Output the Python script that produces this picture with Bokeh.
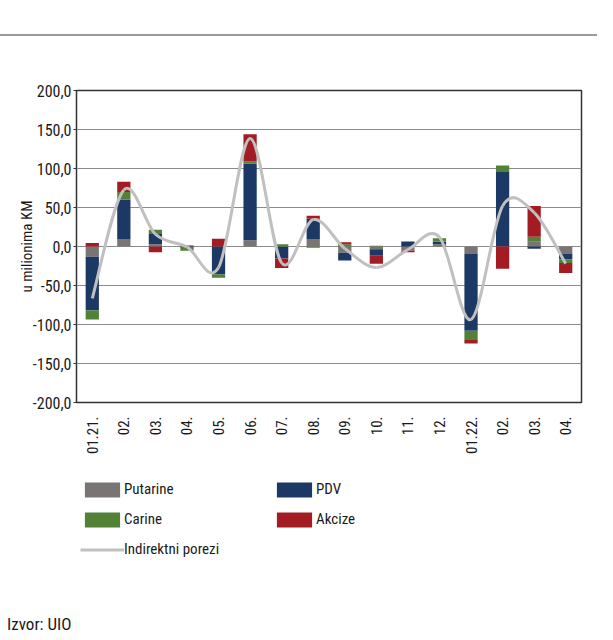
import numpy as np
from bokeh.plotting import figure
from bokeh.models import FixedTicker, Legend, LegendItem, Range1d, Div
from bokeh.layouts import column
from bokeh.embed import file_html
from bokeh.resources import INLINE

# ---- data ----
months = ["01.21.", "02.", "03.", "04.", "05.", "06.", "07.", "08.",
          "09.", "10.", "11.", "12.", "01.22.", "02.", "03.", "04."]
putarine = [-13.0, 9.0, 3.0, 1.5, 0.0, 8.0, 0.0, 9.0, -8.0, -3.5, -5.0, 3.0, -9.5, 0.0, 6.0, -9.5]
pdv = [-69.0, 51.0, 13.0, -1.5, -36.0, 98.5, -15.5, 26.5, -10.0, -8.5, 6.5, 3.0, -98.5, 95.5, -3.0, -7.0]
carine = [-11.5, 10.0, 5.5, -4.0, -4.0, 2.5, 3.0, -1.5, 3.0, 1.0, 0.0, 4.5, -12.0, 8.5, 6.5, -4.5]
akcize = [4.5, 13.0, -7.5, 0.0, 10.0, 35.0, -12.0, 4.0, 2.5, -10.0, -2.5, 0.0, -4.5, -28.5, 39.5, -13.0]
indirektni = [-66.5, 72.5, 16.0, -0.5, -27.0, 138.5, -21.0, 34.5, -2.5, -27.0, -4.0, 12.0, -93.5, 52.0, 43.5, -22.0]

series_names = ["Putarine", "PDV", "Carine", "Akcize"]
series_values = [putarine, pdv, carine, akcize]
series_colors = ["#7a7574", "#1c3864", "#538135", "#a31c24"]
line_name = "Indirektni porezi"
line_color = "#c0c0c0"
source_text = "Izvor: UIO"

y_ticks = [-200, -150, -100, -50, 0, 50, 100, 150, 200]
y_tick_labels = [f"{t:.1f}".replace(".", ",") for t in y_ticks]

FONT = "Roboto Condensed"
TXT = "#1a1a1a"
W = 597

# stacked extents (positives stack up, negatives stack down, in series order)
x = np.arange(len(months))
pos_base = np.zeros(len(months))
neg_base = np.zeros(len(months))
stacks = []
for vals in series_values:
    v = np.array(vals, dtype=float)
    bottom = np.where(v >= 0, pos_base, neg_base)
    top = bottom + v
    pos_base = np.where(v >= 0, top, pos_base)
    neg_base = np.where(v < 0, top, neg_base)
    stacks.append((bottom, top))

# smoothed total line (Catmull-Rom as cubic Bezier segments through the data points)
yv = np.array(indirektni, dtype=float)
xv = x.astype(float)
n = len(xv)
bz = {k: [] for k in ("x0", "y0", "x1", "y1", "cx0", "cy0", "cx1", "cy1")}
for i in range(n - 1):
    a = max(i - 1, 0)
    d = min(i + 2, n - 1)
    bz["x0"].append(xv[i]); bz["y0"].append(yv[i])
    bz["x1"].append(xv[i + 1]); bz["y1"].append(yv[i + 1])
    bz["cx0"].append(xv[i] + (xv[i + 1] - xv[a]) / 6.0)
    bz["cy0"].append(yv[i] + (yv[i + 1] - yv[a]) / 6.0)
    bz["cx1"].append(xv[i + 1] - (xv[d] - xv[i]) / 6.0)
    bz["cy1"].append(yv[i + 1] - (yv[d] - yv[i]) / 6.0)

# ---- main chart ----
p = figure(width=W, height=428,
           x_range=Range1d(-0.5, 15.5), y_range=Range1d(-200, 200),
           output_backend="svg", toolbar_location=None,
           min_border_left=76, min_border_right=16,
           min_border_top=54, min_border_bottom=62)
p.background_fill_color = "white"
p.border_fill_color = "white"
p.outline_line_color = "#333333"
p.outline_line_width = 1.5

for (bottom, top), col in zip(stacks, series_colors):
    p.vbar(x=x, bottom=bottom, top=top, width=0.42, fill_color=col, line_color=None)
p.bezier(**bz, line_color=line_color, line_width=3)

p.xgrid.visible = False
p.ygrid.grid_line_color = "#8c8c8c"
p.ygrid.grid_line_width = 1
p.yaxis.ticker = FixedTicker(ticks=y_ticks)
p.yaxis.major_label_overrides = {t: lab for t, lab in zip(y_ticks, y_tick_labels)}
p.xaxis.ticker = FixedTicker(ticks=list(range(len(months))))
p.xaxis.major_label_overrides = {i: m for i, m in enumerate(months)}
p.xaxis.major_label_orientation = np.pi / 2
for ax in (p.xaxis[0], p.yaxis[0]):
    ax.axis_line_color = None
    ax.minor_tick_line_color = None
    ax.major_label_text_font = FONT
    ax.major_label_text_color = TXT
p.yaxis.major_label_text_font_size = "16px"
p.xaxis.major_label_text_font_size = "15px"
p.xaxis.major_tick_line_color = None
p.xaxis.major_label_standoff = 8
p.yaxis.major_tick_out = 3
p.yaxis.major_tick_in = 0
p.yaxis.major_tick_line_color = "#333333"
p.yaxis.major_label_standoff = 2
p.yaxis.axis_label = "u milionima KM"
p.yaxis.axis_label_text_font = FONT
p.yaxis.axis_label_text_font_size = "15px"
p.yaxis.axis_label_text_font_style = "normal"
p.yaxis.axis_label_text_color = TXT
p.yaxis.axis_label_standoff = -6

# ---- legend panel (keys are hidden copies of the chart's series) ----
LH = 136
p_leg = figure(width=W, height=LH, x_range=Range1d(-0.5, 15.5), y_range=Range1d(-200, 200),
               x_axis_type=None, y_axis_type=None, output_backend="svg",
               toolbar_location=None, min_border=0,
               min_border_left=76, min_border_right=16, min_border_top=0, min_border_bottom=0)
p_leg.outline_line_color = None
p_leg.grid.visible = False

keys = {}
for name, (bottom, top), col in zip(series_names, stacks, series_colors):
    keys[name] = p_leg.vbar(x=x, bottom=bottom, top=top, width=0.42,
                            fill_color=col, line_color=None, visible=False)
keys[line_name] = p_leg.line(x=xv, y=yv, line_color=line_color, line_width=3, visible=False)

ITEM_H = 19
SP = 11
LEG_TOP = 15.5
col_a = ["Putarine", "Carine", line_name]
col_b = ["PDV", "Akcize"]
for names, lx in ((col_a, 4), (col_b, 196)):
    h = len(names) * ITEM_H + (len(names) - 1) * SP
    lg = Legend(items=[LegendItem(label=nm, renderers=[keys[nm]]) for nm in names],
                location=(lx, LH - LEG_TOP - h), orientation="vertical",
                glyph_width=44, glyph_height=19, label_height=15,
                label_standoff=-1, spacing=SP, padding=0, margin=0,
                border_line_color=None, background_fill_alpha=0,
                inactive_fill_alpha=0,
                label_text_font=FONT, label_text_font_size="15px",
                label_text_color=TXT)
    p_leg.add_layout(lg)

top_rule = Div(text="", width=W, height=36, margin=0,
               styles={"border-bottom": "2px solid #9a9a9a", "box-sizing": "border-box"})
source = Div(text=source_text, width=W, height=32, margin=0,
             styles={"font-family": FONT, "font-size": "17px", "line-height": "17px",
                     "padding-top": "16px", "padding-left": "7px",
                     "color": TXT, "box-sizing": "border-box"})

layout = column(top_rule, p, p_leg, source, spacing=0)
open("out.html", "w").write(file_html(layout, INLINE))
